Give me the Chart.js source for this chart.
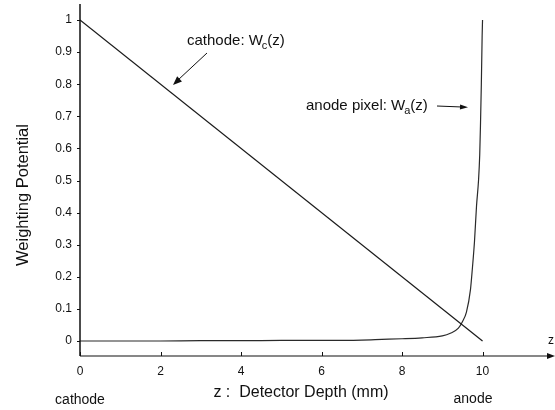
<!DOCTYPE html>
<html>
<head>
<meta charset="utf-8">
<script src="https://cdn.jsdelivr.net/npm/chart.js@4.4.1/dist/chart.umd.min.js"></script>
<style>
  html, body { margin: 0; padding: 0; background: #fff; }
  #wrap { width: 555px; height: 410px; position: relative; }
</style>
</head>
<body>
<div id="wrap"><canvas id="potChart"></canvas></div>
<script>
// data
const xTicks = [0, 2, 4, 6, 8, 10];
const yTicks = [0, 0.1, 0.2, 0.3, 0.4, 0.5, 0.6, 0.7, 0.8, 0.9, 1];

const cathodeZ = [0, 10];
const cathodeW = [1, 0];

const anodeZ = [0, 1, 2, 3, 4, 5, 6, 7, 7.5, 8, 8.5, 9, 9.2, 9.4, 9.5, 9.6, 9.7, 9.75, 9.8, 9.85, 9.9, 9.93, 9.95, 9.97, 9.99, 10];
const anodeW = [0, 0, 0, 0.001, 0.001, 0.002, 0.002, 0.003, 0.005, 0.007, 0.01, 0.016, 0.024, 0.04, 0.06, 0.09, 0.16, 0.23, 0.31, 0.42, 0.5, 0.58, 0.68, 0.8, 0.95, 1.0];

const FONT = '"Liberation Sans", Arial, sans-serif';

function toPoints(xs, ys) {
  return xs.map((x, i) => ({ x: x, y: ys[i] }));
}

function arrowHead(ctx, x1, y1, x2, y2, len, wid) {
  const a = Math.atan2(y2 - y1, x2 - x1);
  ctx.beginPath();
  ctx.moveTo(x2, y2);
  ctx.lineTo(x2 - len * Math.cos(a) + wid * Math.sin(a), y2 - len * Math.sin(a) - wid * Math.cos(a));
  ctx.lineTo(x2 - len * Math.cos(a) - wid * Math.sin(a), y2 - len * Math.sin(a) + wid * Math.cos(a));
  ctx.closePath();
  ctx.fill();
}

// axes, arrows and the free text of the figure
const decorations = {
  id: 'decorations',
  afterDraw(chart) {
    const ctx = chart.ctx;
    const area = chart.chartArea;
    const xs = chart.scales.x, ys = chart.scales.y;
    ctx.save();
    ctx.strokeStyle = '#111';
    ctx.fillStyle = '#111';

    // y axis
    ctx.lineWidth = 1.5;
    ctx.beginPath();
    ctx.moveTo(area.left, area.top);
    ctx.lineTo(area.left, area.bottom);
    ctx.stroke();
    // x axis with arrow
    ctx.lineWidth = 1.2;
    ctx.beginPath();
    ctx.moveTo(area.left, area.bottom);
    ctx.lineTo(area.right - 6, area.bottom);
    ctx.stroke();
    arrowHead(ctx, area.left, area.bottom, area.right, area.bottom, 8, 3);

    // tick marks
    ctx.lineWidth = 1;
    xTicks.forEach(v => {
      const px = Math.round(xs.getPixelForValue(v)) + 0.5;
      ctx.beginPath();
      ctx.moveTo(px, area.bottom);
      ctx.lineTo(px, area.bottom - 4);
      ctx.stroke();
    });
    yTicks.forEach(v => {
      const py = Math.round(ys.getPixelForValue(v)) + 0.5;
      ctx.beginPath();
      ctx.moveTo(area.left - 3, py);
      ctx.lineTo(area.left, py);
      ctx.stroke();
    });

    // axis titles
    ctx.textBaseline = 'middle';
    ctx.textAlign = 'center';
    ctx.font = '16.5px ' + FONT;
    ctx.save();
    ctx.translate(23, 195);
    ctx.rotate(-Math.PI / 2);
    ctx.fillText('Weighting Potential', 0, 0);
    ctx.restore();

    ctx.font = '16px ' + FONT;
    ctx.fillText('z :  Detector Depth (mm)', 301, 393);
    ctx.font = '14px ' + FONT;
    ctx.fillText('cathode', xs.getPixelForValue(0), 400);
    ctx.fillText('anode', 473, 399);
    ctx.font = '12px ' + FONT;
    ctx.fillText('z', 551, 341);

    // annotations with subscripts
    ctx.textAlign = 'left';
    ctx.textBaseline = 'alphabetic';
    function labelSub(x, y, main, sub, tail) {
      ctx.font = '15px ' + FONT;
      ctx.fillText(main, x, y);
      let w = ctx.measureText(main).width;
      ctx.font = '11px ' + FONT;
      ctx.fillText(sub, x + w - 1, y + 4);
      const sw = ctx.measureText(sub).width;
      ctx.font = '15px ' + FONT;
      ctx.fillText(tail, x + w + sw - 1, y);
    }
    labelSub(187, 45, 'cathode: W', 'c', '(z)');
    labelSub(306, 110, 'anode pixel: W', 'a', '(z)');

    // pointer arrows
    ctx.lineWidth = 1;
    ctx.beginPath();
    ctx.moveTo(207, 53);
    ctx.lineTo(178, 80);
    ctx.stroke();
    arrowHead(ctx, 207, 53, 173, 85, 9, 3.5);

    ctx.beginPath();
    ctx.moveTo(437, 106);
    ctx.lineTo(462, 107);
    ctx.stroke();
    arrowHead(ctx, 437, 106, 468, 107.3, 8, 2.5);

    ctx.restore();
  }
};

const ctx = document.getElementById('potChart').getContext('2d');

new Chart(ctx, {
  type: 'scatter',
  data: {
    datasets: [
      {
        label: 'cathode',
        data: toPoints(cathodeZ, cathodeW),
        showLine: true,
        borderColor: '#1a1a1a',
        borderWidth: 1.2,
        pointRadius: 0,
        fill: false
      },
      {
        label: 'anode pixel',
        data: toPoints(anodeZ, anodeW),
        showLine: true,
        borderColor: '#2a2a2a',
        borderWidth: 1.2,
        pointRadius: 0,
        cubicInterpolationMode: 'monotone',
        fill: false
      }
    ]
  },
  options: {
    responsive: true,
    maintainAspectRatio: false,
    animation: false,
    layout: { padding: { top: 4, right: 0, left: 0, bottom: 0 } },
    scales: {
      x: {
        type: 'linear',
        min: 0,
        max: 11.8,
        afterFit: s => { s.height = 54; s.paddingLeft = 0; s.paddingRight = 0; },
        afterBuildTicks: s => { s.ticks = xTicks.map(v => ({ value: v })); },
        grid: { display: true, drawOnChartArea: false, drawTicks: false },
        border: { display: false },
        ticks: {
          padding: 8,
          color: '#111',
          font: { family: FONT, size: 12 },
          callback: v => String(v)
        }
      },
      y: {
        type: 'linear',
        min: -0.0467,
        max: 1.05,
        afterFit: s => { s.width = 80; s.paddingTop = 0; s.paddingBottom = 0; },
        afterBuildTicks: s => { s.ticks = yTicks.map(v => ({ value: v })); },
        grid: { display: true, drawOnChartArea: false, drawTicks: false },
        border: { display: false },
        ticks: {
          padding: 8,
          color: '#111',
          font: { family: FONT, size: 12 },
          callback: v => String(Math.round(v * 10) / 10)
        }
      }
    },
    plugins: {
      legend: { display: false },
      tooltip: { enabled: false }
    }
  },
  plugins: [decorations]
});
</script>
</body>
</html>
